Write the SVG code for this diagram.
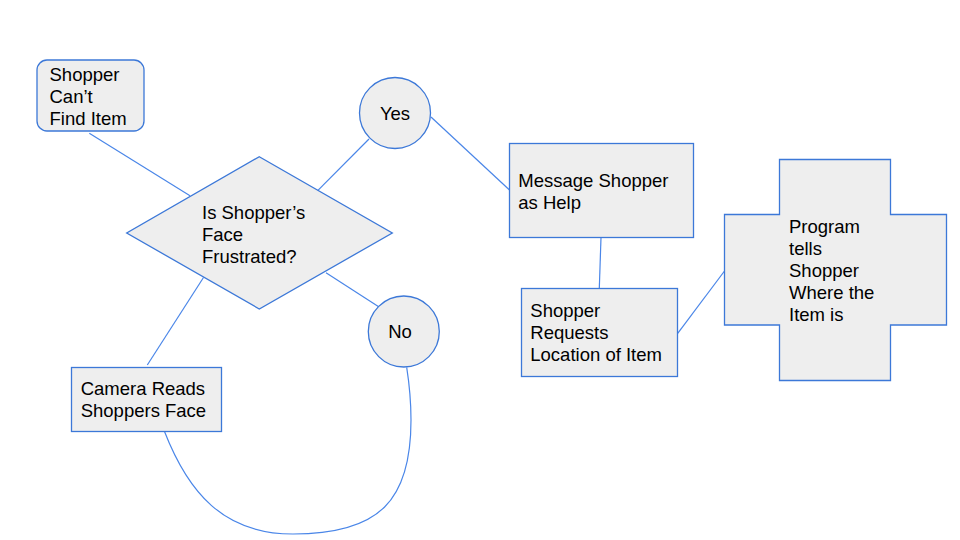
<svg xmlns="http://www.w3.org/2000/svg" width="960" height="540" viewBox="0 0 960 540">
<style>
.n{fill:#eeeeee;stroke:#3c78d8;stroke-width:1.3}
.c{fill:none;stroke:#4a86e8;stroke-width:1.2}
text{font-family:"Liberation Sans",Arial,sans-serif;font-size:18.5px;fill:#000}
</style>
<rect width="960" height="540" fill="#ffffff"/>
<g id="connectors">
<line class="c" x1="89.3" y1="133.3" x2="190" y2="195.7"/>
<line class="c" x1="316.7" y1="191.7" x2="369" y2="139"/>
<line class="c" x1="431" y1="117" x2="509.5" y2="190"/>
<line class="c" x1="601" y1="237.5" x2="599.3" y2="288.5"/>
<line class="c" x1="677.7" y1="333.3" x2="724.5" y2="271"/>
<line class="c" x1="326" y1="272.7" x2="378.3" y2="306.5"/>
<line class="c" x1="203.5" y1="277.5" x2="147.3" y2="365"/>
<path class="c" d="M164.3,431 C188,492 223,534 293,534 C380,534 411,500 411,420 C411,400 409,382 406.7,367.3"/>
</g>
<g id="n-start">
<rect class="n" x="37" y="60" width="107" height="71" rx="10"/>
<text x="49.5" y="80.5">Shopper</text>
<text x="49.5" y="102.5">Can’t</text>
<text x="49.5" y="124.5">Find Item</text>
</g>
<g id="n-decision">
<polygon class="n" points="259.3,156.7 392.3,233 259.3,309 126.7,233"/>
<text x="202" y="218.5">Is Shopper’s</text>
<text x="202" y="240.5">Face</text>
<text x="202" y="262.5">Frustrated?</text>
</g>
<g id="n-yes">
<circle class="n" cx="395" cy="113" r="35.5"/>
<text x="395" y="119.5" text-anchor="middle">Yes</text>
</g>
<g id="n-no">
<circle class="n" cx="403.8" cy="331.5" r="35.5"/>
<text x="400" y="338" text-anchor="middle">No</text>
</g>
<g id="n-message">
<rect class="n" x="509.5" y="143.5" width="184" height="94"/>
<text x="518.3" y="187">Message Shopper</text>
<text x="518.3" y="208.5">as Help</text>
</g>
<g id="n-request">
<rect class="n" x="521.5" y="288.5" width="156" height="88"/>
<text x="530.3" y="317">Shopper</text>
<text x="530.3" y="339">Requests</text>
<text x="530.3" y="361">Location of Item</text>
</g>
<g id="n-program">
<polygon class="n" points="779.5,159.5 890.5,159.5 890.5,214.5 946.5,214.5 946.5,325 890.5,325 890.5,380.5 779.5,380.5 779.5,325 724.5,325 724.5,214.5 779.5,214.5"/>
<text x="789" y="233">Program</text>
<text x="789" y="254.5">tells</text>
<text x="789" y="276.5">Shopper</text>
<text x="789" y="298.5">Where the</text>
<text x="789" y="320.5">Item is</text>
</g>
<g id="n-camera">
<rect class="n" x="71.5" y="367.5" width="150" height="64"/>
<text x="80.7" y="395">Camera Reads</text>
<text x="80.7" y="417">Shoppers Face</text>
</g>
</svg>
